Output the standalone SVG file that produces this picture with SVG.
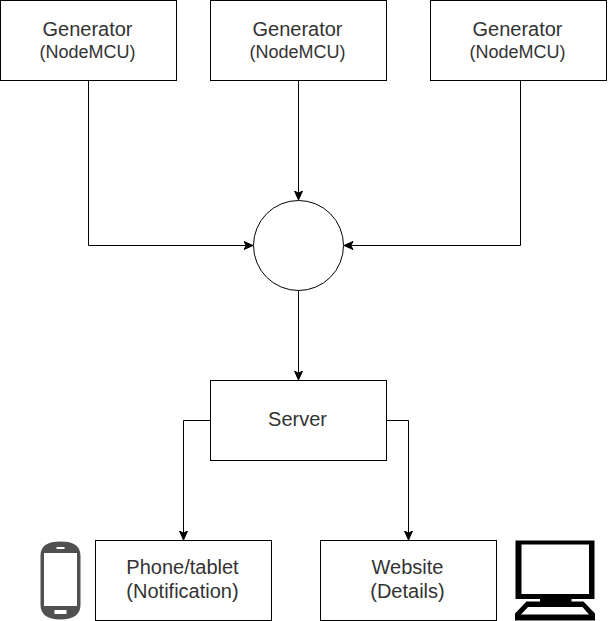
<svg xmlns="http://www.w3.org/2000/svg" width="608" height="621" viewBox="0 0 608 621">
<style>
.b{fill:#fff;stroke:#000;stroke-width:1}
.c{fill:none;stroke:#000;stroke-width:1}
text{font-family:"Liberation Sans",Arial,sans-serif;font-size:20px;fill:#333;text-anchor:middle}
text.s{font-size:18px}
</style>
<defs>
<marker id="a" markerUnits="userSpaceOnUse" markerWidth="12" markerHeight="12" refX="9.500" refY="5" orient="auto">
<path d="M0.500 1L9.500 5L0.500 9L2.700 5Z" fill="#000" stroke="#000" stroke-width="1"/>
</marker>
</defs>
<rect width="608" height="621" fill="#fff"/>
<g id="connectors">
<path class="c" marker-end="url(#a)" d="M88.500 80.500V245.500H253"/>
<path class="c" marker-end="url(#a)" d="M298.500 80.500V200"/>
<path class="c" marker-end="url(#a)" d="M520.500 80.500V245.500H344"/>
<path class="c" marker-end="url(#a)" d="M298.500 290.500V380"/>
<path class="c" marker-end="url(#a)" d="M210.500 420.500H183.500V540"/>
<path class="c" marker-end="url(#a)" d="M386.500 420.500H408.500V540"/>
</g>
<g id="gen1"><rect class="b" x="0.500" y="0.500" width="176" height="80"/><text x="87.500" y="36">Generator</text><text class="s" x="87.500" y="58">(NodeMCU)</text></g>
<g id="gen2"><rect class="b" x="210.500" y="0.500" width="176" height="80"/><text x="297.500" y="36">Generator</text><text class="s" x="297.500" y="58">(NodeMCU)</text></g>
<g id="gen3"><rect class="b" x="430.500" y="0.500" width="176" height="80"/><text x="517.500" y="36">Generator</text><text class="s" x="517.500" y="58">(NodeMCU)</text></g>
<g id="hub"><circle class="b" cx="298.500" cy="245.500" r="45"/></g>
<g id="server"><rect class="b" x="210.500" y="380.500" width="176" height="80"/><text x="297.500" y="426">Server</text></g>
<g id="phone"><rect class="b" x="95.500" y="540.500" width="176" height="80"/><text x="182.500" y="574">Phone/tablet</text><text x="182.500" y="598">(Notification)</text></g>
<g id="website"><rect class="b" x="320.500" y="540.500" width="176" height="80"/><text x="407.500" y="574">Website</text><text x="407.500" y="598">(Details)</text></g>
<g id="phone-icon">
<path fill-rule="evenodd" fill="#505050" d="M40.500 556C40.500 546 47 541.500 60.500 541.500C74 541.500 80.500 546 80.500 556V605C80.500 614 74 619.500 60.500 619.500C47 619.500 40.500 614 40.500 605ZM44 553V606H77V553ZM56.500 547V549H64.500V547ZM54.500 610V614H66.500V610Z"/>
</g>
<g id="computer-icon">
<path fill-rule="evenodd" fill="#000" d="M515.500 540.500H594.500V599H571.500V601.500H583.500L595 613.500V620.500H515V613.500L526.500 601.500H540V599H515.500ZM521.500 544.500V594H589V544.500ZM528 607L521 614.500H589L582.500 607Z"/>
</g>
</svg>
